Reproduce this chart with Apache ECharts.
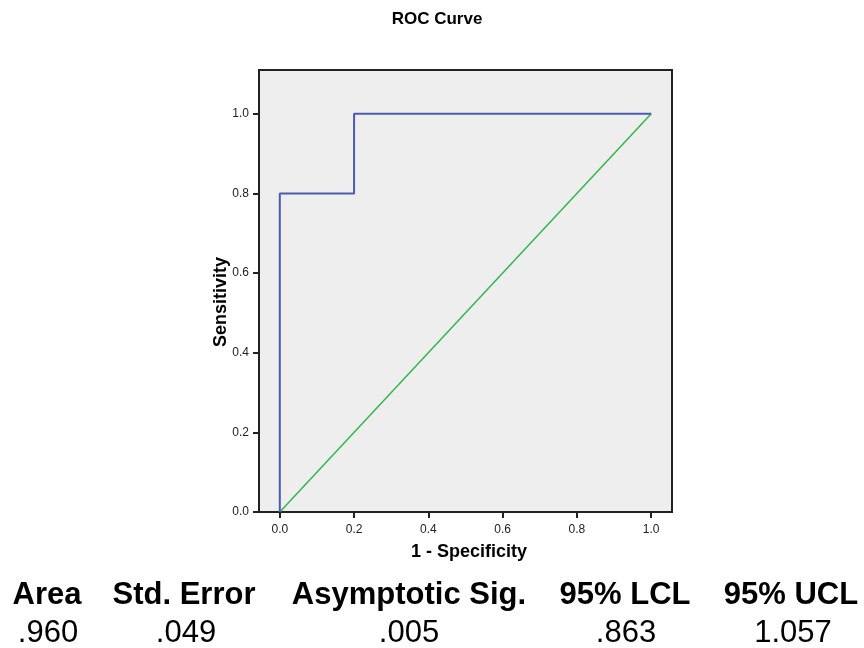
<!DOCTYPE html>
<html>
<head>
<meta charset="utf-8">
<script src="https://cdn.jsdelivr.net/npm/echarts@6/dist/echarts.min.js"></script>
<style>html,body{margin:0;padding:0;background:#fff}#c{width:864px;height:648px}</style>
</head>
<body>
<div id="c"></div>
<script>
var fpr = [0, 0, 0.2, 0.2, 1];
var tpr = [0, 0.8, 0.8, 1, 1];
var refX = [0, 1];
var refY = [0, 1];
var tickValues = [0, 0.2, 0.4, 0.6, 0.8, 1.0];
var tableHeaders = ['Area', 'Std. Error', 'Asymptotic Sig.', '95% LCL', '95% UCL'];
var tableValues = ['.960', '.049', '.005', '.863', '1.057'];
var headerCenters = [47, 184, 409, 625, 791];
var valueCenters = [48, 186, 409, 626, 793];

var chart = echarts.init(document.getElementById('c'), null, {renderer: 'canvas'});
var FONT = 'Liberation Sans, Arial, sans-serif';

var graphics = [
  {type: 'text', x: 437, y: 19, style: {text: 'ROC Curve', textAlign: 'center', textVerticalAlign: 'middle', font: 'bold 17px ' + FONT, fill: '#000'}},
  {type: 'text', x: 469, y: 552, style: {text: '1 - Specificity', textAlign: 'center', textVerticalAlign: 'middle', font: 'bold 18px ' + FONT, fill: '#000'}},
  {type: 'text', x: 221, y: 302, rotation: Math.PI / 2, style: {text: 'Sensitivity', textAlign: 'center', textVerticalAlign: 'middle', font: 'bold 18px ' + FONT, fill: '#000'}}
];
tableHeaders.forEach(function (h, i) {
  graphics.push({type: 'text', x: headerCenters[i], y: 595, style: {text: h, textAlign: 'center', textVerticalAlign: 'middle', font: 'bold 31px ' + FONT, fill: '#000'}});
});
tableValues.forEach(function (v, i) {
  graphics.push({type: 'text', x: valueCenters[i], y: 633, style: {text: v, textAlign: 'center', textVerticalAlign: 'middle', font: '31px ' + FONT, fill: '#000'}});
});

function pairs(xs, ys) { return xs.map(function (x, i) { return [x, ys[i]]; }); }

var axisCommon = {
  type: 'value',
  axisLine: {show: true, onZero: false, lineStyle: {color: '#222', width: 2}},
  axisTick: {show: true, length: 6, customValues: tickValues, lineStyle: {color: '#222', width: 2}},
  axisLabel: {customValues: tickValues, fontSize: 12, fontFamily: FONT, color: '#222', formatter: function (v) { return v.toFixed(1); }},
  splitLine: {show: false}
};

chart.setOption({
  animation: false,
  backgroundColor: '#fff',
  grid: {left: 259, top: 70, width: 413, height: 442, show: true, backgroundColor: '#eeeeee', borderColor: '#222', borderWidth: 2},
  xAxis: Object.assign({}, axisCommon, {min: -0.056, max: 1.056, axisLabel: Object.assign({}, axisCommon.axisLabel, {margin: 12})}),
  yAxis: Object.assign({}, axisCommon, {min: 0, max: 1.11, axisLabel: Object.assign({}, axisCommon.axisLabel, {margin: 10})}),
  series: [
    {type: 'line', data: pairs(fpr, tpr), symbol: 'none', lineStyle: {color: '#4a5cb2', width: 2}, z: 3},
    {type: 'line', data: pairs(refX, refY), symbol: 'none', lineStyle: {color: '#2fb84a', width: 1.5}, z: 2}
  ],
  graphic: graphics
});
</script>
</body>
</html>
